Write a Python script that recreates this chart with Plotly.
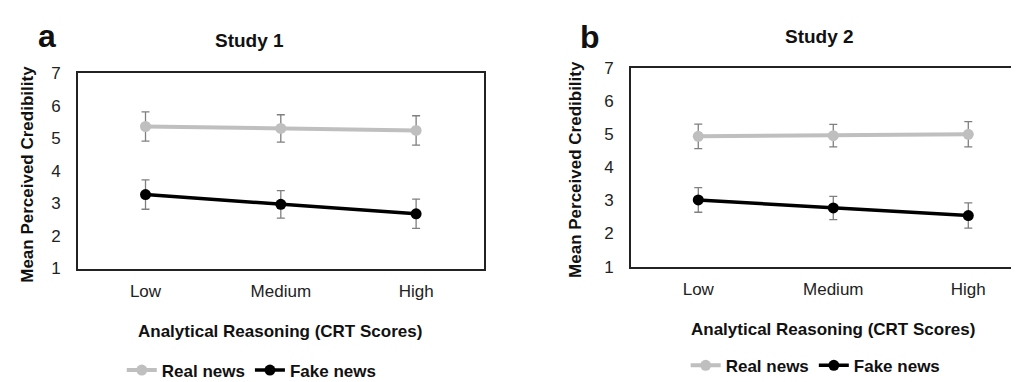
import plotly.graph_objects as go

categories = ["Low", "Medium", "High"]
study1_real = [5.36, 5.30, 5.24]
study1_real_err = [0.45, 0.42, 0.45]
study1_fake = [3.27, 2.97, 2.68]
study1_fake_err = [0.45, 0.42, 0.45]
study2_real = [4.93, 4.95, 4.99]
study2_real_err = [0.37, 0.34, 0.38]
study2_fake = [3.01, 2.77, 2.54]
study2_fake_err = [0.37, 0.35, 0.38]

W, H = 1019, 382
FONT = "Liberation Sans, Arial, sans-serif"
REAL_C = "#BFBFBF"
FAKE_C = "#000000"
ERR_C = "#7F7F7F"

fig = go.Figure()

def add_pair(real, rerr, fake, ferr, xa, ya, leg):
    fig.add_trace(go.Scatter(
        x=categories, y=real, name="Real news", mode="lines+markers",
        xaxis=xa, yaxis=ya, legend=leg,
        line=dict(color=REAL_C, width=4), marker=dict(color=REAL_C, size=11),
        error_y=dict(type="data", array=rerr, color=ERR_C, thickness=1.3, width=4),
    ))
    fig.add_trace(go.Scatter(
        x=categories, y=fake, name="Fake news", mode="lines+markers",
        xaxis=xa, yaxis=ya, legend=leg,
        line=dict(color=FAKE_C, width=3.5), marker=dict(color=FAKE_C, size=11),
        error_y=dict(type="data", array=ferr, color=ERR_C, thickness=1.3, width=4),
    ))

add_pair(study1_real, study1_real_err, study1_fake, study1_fake_err, "x", "y", "legend")
add_pair(study2_real, study2_real_err, study2_fake, study2_fake_err, "x2", "y2", "legend2")

axis_common = dict(showgrid=False, zeroline=False, showline=True, linecolor="#222222",
                   linewidth=1.5, mirror=True, ticks="",
                   tickfont=dict(family=FONT, size=17, color="#222222"))

LEGFONT = dict(family=FONT, size=17, color="#111111", weight="bold")

fig.update_layout(
    width=W, height=H,
    margin=dict(l=0, r=0, t=0, b=0),
    paper_bgcolor="white", plot_bgcolor="white",
    font=dict(family=FONT, color="#111111"),
    xaxis=dict(domain=[70 / W, 476.7 / W], anchor="y", type="category",
               range=[-0.5, 2.5], ticklabelstandoff=6, **axis_common),
    yaxis=dict(domain=[1 - 264.7 / H, 1 - 59 / H], anchor="x", range=[1, 7],
               tickvals=[1, 2, 3, 4, 5, 6, 7], ticklabelstandoff=12, **axis_common),
    xaxis2=dict(domain=[624 / W, 1.0], anchor="y2", type="category",
                range=[-0.5, 2.42], ticklabelstandoff=6, **axis_common),
    yaxis2=dict(domain=[1 - 262.7 / H, 1 - 53.3 / H], anchor="x2", range=[1, 7],
                tickvals=[1, 2, 3, 4, 5, 6, 7], ticklabelstandoff=12, **axis_common),
    legend=dict(orientation="h", x=114 / W, y=1 - 372 / H, xanchor="left", yanchor="middle",
                font=LEGFONT, itemwidth=30, tracegroupgap=0, bgcolor="rgba(0,0,0,0)"),
    legend2=dict(orientation="h", x=679 / W, y=1 - 367 / H, xanchor="left", yanchor="middle",
                 font=LEGFONT, itemwidth=30, tracegroupgap=0, bgcolor="rgba(0,0,0,0)"),
)

def ann(text, x, y, size, angle=0, weight="bold"):
    fig.add_annotation(text=text, x=x / W, y=1 - y / H, xref="paper", yref="paper",
                       showarrow=False, textangle=angle, xanchor="center", yanchor="middle",
                       font=dict(family=FONT, size=size, color="#111111", weight=weight))

ann("a", 39, 20, 32)
ann("b", 583, 21, 32)
ann("Study 1", 242, 25, 19)
ann("Study 2", 813, 20, 19)
ann("Mean Perceived Credibility", 20, 165, 17, angle=-90)
ann("Mean Perceived Credibility", 568, 160, 17, angle=-90)
ann("Analytical Reasoning (CRT Scores)", 273, 331, 17)
ann("Analytical Reasoning (CRT Scores)", 827, 329, 17)

fig.write_html("out.html")
